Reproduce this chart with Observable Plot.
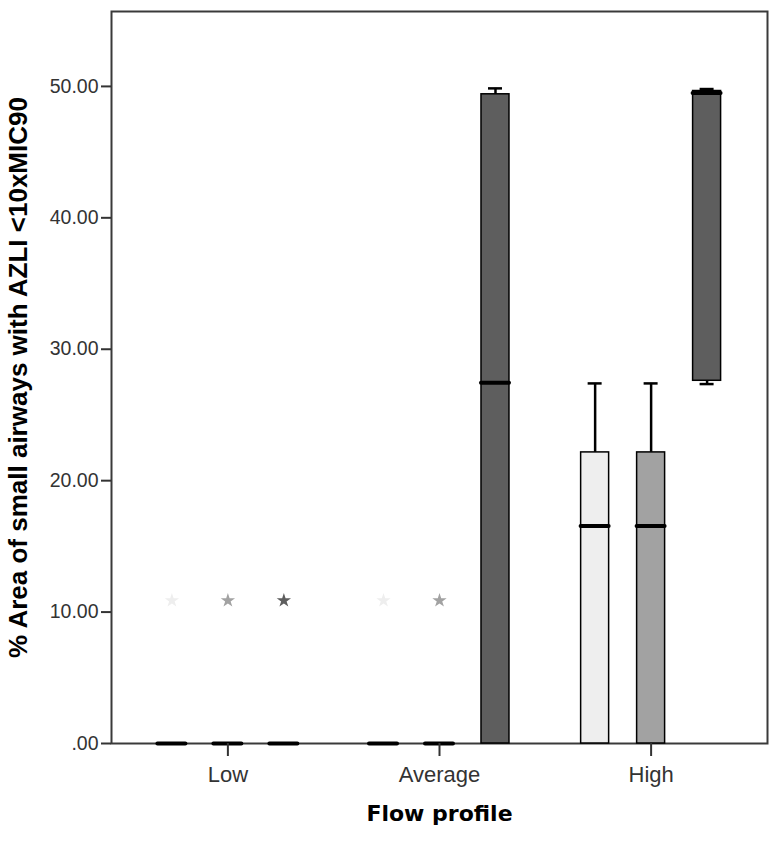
<!DOCTYPE html>
<html>
<head>
<meta charset="utf-8">
<script src="https://cdn.jsdelivr.net/npm/d3@7"></script>
<script src="https://cdn.jsdelivr.net/npm/@observablehq/plot@0.6"></script>
<style>
  body { margin: 0; background: #ffffff; }
  #chart svg { display: block; }
</style>
</head>
<body>
<div id="chart"></div>
<script>
// ---- Data ----
const groups = ["Low", "Average", "High"];
const seriesNames = ["Series 1", "Series 2", "Series 3"];
const seriesFill = ["#eeeeee", "#a2a2a2", "#5e5e5e"];

const boxGroup  = ["Low", "Low", "Low", "Average", "Average", "Average", "High", "High", "High"];
const boxSeries = ["Series 1", "Series 2", "Series 3", "Series 1", "Series 2", "Series 3", "Series 1", "Series 2", "Series 3"];
const q1Values        = [0, 0, 0, 0, 0, 0,    0,    0,    27.6];
const medianValues    = [0, 0, 0, 0, 0, 27.45, 16.55, 16.55, 49.5];
const q3Values        = [0, 0, 0, 0, 0, 49.4, 22.15, 22.15, 49.65];
const whiskerLowValues  = [0, 0, 0, 0, 0, 0,    0,    0,    27.35];
const whiskerHighValues = [0, 0, 0, 0, 0, 49.85, 27.4, 27.4, 49.8];

const outlierGroup  = ["Low", "Low", "Low", "Average", "Average"];
const outlierSeries = ["Series 1", "Series 2", "Series 3", "Series 1", "Series 2"];
const outlierValues = [10.88, 10.88, 10.88, 10.88, 10.88];

const yTicks = [0, 10, 20, 30, 40, 50];
const yMax = 55.7;
const yLabel = "% Area of small airways with AZLI <10xMIC90";
const xLabel = "Flow profile";

// ---- Tables built from the arrays ----
const boxes = boxGroup.map((g, i) => ({
  group: g, series: boxSeries[i],
  q1: q1Values[i], median: medianValues[i], q3: q3Values[i],
  lo: whiskerLowValues[i], hi: whiskerHighValues[i]
}));
const upper = boxes.filter(d => d.hi > d.q3);
const lower = boxes.filter(d => d.lo < d.q1);
const outliers = outlierGroup.map((g, i) => ({group: g, series: outlierSeries[i], value: outlierValues[i]}));

const fmt = d => d === 0 ? ".00" : d.toFixed(2);

const W = 777, MARGIN_L = 111, MARGIN_R = 10, FX_OUTER = 0.05;
// offset of the first facet from the frame's left edge (band-scale outer padding)
const facetStep = (W - MARGIN_L - MARGIN_R) / (groups.length + 2 * FX_OUTER);
const facetOffset = FX_OUTER * facetStep;

const chart = Plot.plot({
  width: W,
  height: 842,
  marginLeft: MARGIN_L,
  marginRight: MARGIN_R,
  marginTop: 11,
  marginBottom: 99,
  style: {fontFamily: "'Liberation Sans', Arial, sans-serif", background: "#ffffff", overflow: "visible"},
  fx: {domain: groups, paddingInner: 0, paddingOuter: FX_OUTER, round: false, label: null},
  x: {domain: seriesNames, paddingInner: 0.5, paddingOuter: 0.64, round: false, axis: null},
  y: {domain: [0, yMax], axis: null},
  color: {domain: seriesNames, range: seriesFill},
  marks: [
    Plot.frame({facet: "super", stroke: "#3a3a3a", strokeWidth: 2, insetLeft: -facetOffset, insetRight: -facetOffset}),
    Plot.ruleX(upper, {fx: "group", x: "series", y1: "q3", y2: "hi", stroke: "#000", strokeWidth: 2.5}),
    Plot.ruleX(lower, {fx: "group", x: "series", y1: "lo", y2: "q1", stroke: "#000", strokeWidth: 2.5}),
    Plot.barY(boxes, {fx: "group", x: "series", y1: "q1", y2: "q3", fill: "series", stroke: "#000", strokeWidth: 1.5}),
    Plot.tickY(boxes, {fx: "group", x: "series", y: "median", stroke: "#000", strokeWidth: 4, strokeLinecap: "round"}),
    Plot.tickY(upper, {fx: "group", x: "series", y: "hi", stroke: "#000", strokeWidth: 2.5, insetLeft: 7, insetRight: 7}),
    Plot.tickY(lower, {fx: "group", x: "series", y: "lo", stroke: "#000", strokeWidth: 2.5, insetLeft: 7, insetRight: 7}),
    Plot.dot(outliers, {fx: "group", x: "series", y: "value", symbol: "star", fill: "series", r: 4.5, stroke: null}),
    Plot.axisY({ticks: yTicks, tickFormat: fmt, tickSize: 10, tickPadding: 3, fontSize: 19.5, label: null, color: "#333", strokeWidth: 2, dx: -facetOffset}),
    Plot.axisFx({anchor: "bottom", tickSize: 13, tickPadding: 10, fontSize: 22, label: null, color: "#333", strokeWidth: 2}),
    Plot.text([yLabel], {facet: "super", frameAnchor: "left", textAnchor: "middle", dx: -93 - facetOffset, rotate: -90, text: d => d,
      fontSize: 26, fontWeight: "bold", fontFamily: "'Liberation Sans', Arial, sans-serif", fill: "#000"}),
    Plot.text([xLabel], {facet: "super", frameAnchor: "bottom", dy: 77, text: d => d,
      fontSize: 22, fontWeight: "bold", fontFamily: "'DejaVu Sans', sans-serif", fill: "#000"})
  ]
});
document.getElementById("chart").appendChild(chart);
</script>
</body>
</html>
